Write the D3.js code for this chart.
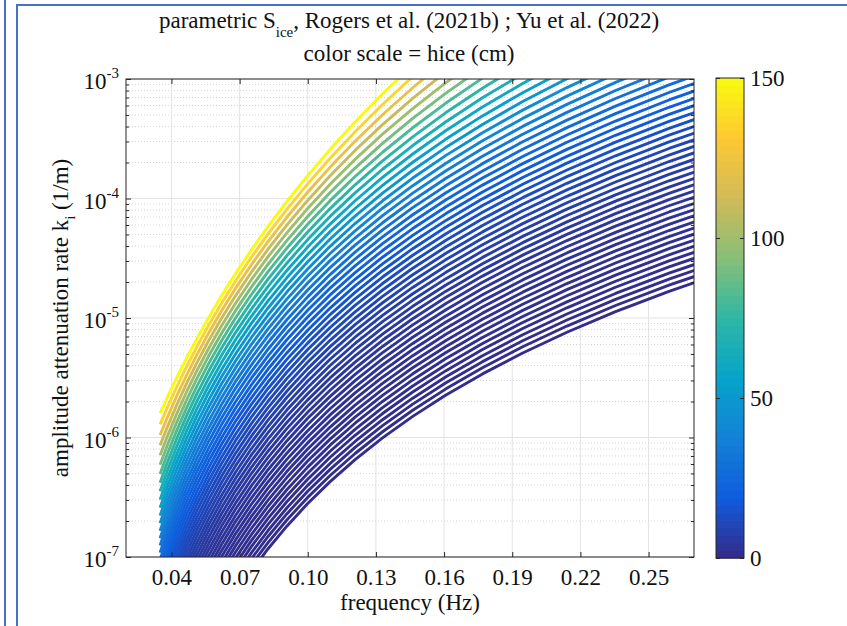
<!DOCTYPE html>
<html><head><meta charset="utf-8">
<script src="https://cdn.jsdelivr.net/npm/d3@7"></script>
<style>body{margin:0;background:#fff}svg{display:block}</style>
</head><body>
<svg id="chart" width="847" height="626"></svg>
<script>
// ---- data ----
// model frequencies (Hz)
const freqHz = [0.0350,0.0385,0.04235,0.046585,0.051244,0.056368,0.062005,0.068205,0.075026,0.082528,0.090781,0.099859,0.109845,0.120830,0.132912,0.146204,0.160824,0.176907,0.194597,0.214057,0.235463,0.259009,0.284910];
// attenuation rate k_i (1/m) of the thinnest-ice (1 cm) curve
const baseK = [1.960e-9,3.139e-9,5.004e-9,7.945e-9,1.257e-8,1.980e-8,3.108e-8,4.859e-8,7.561e-8,1.173e-7,1.812e-7,2.787e-7,4.273e-7,6.524e-7,9.918e-7,1.502e-6,2.266e-6,3.406e-6,5.098e-6,7.599e-6,1.129e-5,1.670e-5,2.460e-5];
// ice thickness of every curve (cm)
const hiceCm = [1.00,1.11,1.23,1.36,1.51,1.67,1.85,2.05,2.27,2.51,2.78,3.08,3.41,3.78,4.19,4.64,5.14,5.69,6.30,6.98,7.73,8.57,9.49,10.51,11.64,12.90,14.29,15.83,17.53,19.42,21.51,23.83,26.39,29.23,32.38,35.87,39.73,44.01,48.75,54.00,59.82,66.26,73.40,81.30,90.06,99.76,110.50,122.40,135.59,150.00];
const hiceExponent = 1.132;          // k_i grows as hice^m ...
const hiceGrowth = 0.003;            // ... times 10^(g*hice) (decades per cm)
const thickBend = 2.5;               // sag (decades) of the thick-ice curves between the two frequencies below
const thickBendFreqs = [0.035,0.1397];
const xTicks = [0.04,0.07,0.10,0.13,0.16,0.19,0.22,0.25];
const yTickExponents = [-7,-6,-5,-4,-3];
const cbTicks = [0,50,100,150];

// ---- styles ----
const parulaStops = ["#352a87","#0f5cdd","#1481d6","#06a4ca","#2eb7a4","#87bf77","#d1bb59","#fec832","#f9fb0e"];
const FONT = "Liberation Serif, Times New Roman, serif";
const FS = 23;
const M = {left:126, right:694, top:79, bottom:557};
const CB = {x0:716, x1:744, top:78, bottom:558};

const svg = d3.select("#chart");
svg.append("rect").attr("width",847).attr("height",626).attr("fill","#fff");

// frame lines
svg.append("line").attr("x1",5).attr("x2",5).attr("y1",0).attr("y2",626).attr("stroke","#4472c4").attr("stroke-width",2);
svg.append("line").attr("x1",17).attr("x2",17).attr("y1",5).attr("y2",626).attr("stroke","#4472c4").attr("stroke-width",2);
svg.append("line").attr("x1",16).attr("x2",847).attr("y1",5).attr("y2",5).attr("stroke","#4472c4").attr("stroke-width",2);

const x = d3.scaleLinear().domain([0.02,0.27]).range([M.left,M.right]);
const y = d3.scaleLog().domain([1e-7,1e-3]).range([M.bottom,M.top]);
const hMax = 150;
const color = d3.scaleLinear()
  .domain(parulaStops.map((c,i)=> i*hMax/(parulaStops.length-1)))
  .range(parulaStops).clamp(true);

// grid
const grid = svg.append("g");
xTicks.forEach(t=>{
  grid.append("line").attr("x1",x(t)).attr("x2",x(t)).attr("y1",M.top).attr("y2",M.bottom)
    .attr("stroke","#e3e3e3").attr("stroke-width",1);
});
const minorY=[];
for(let e=-7;e<-3;e++){ for(let m=2;m<=9;m++) minorY.push(m*Math.pow(10,e)); }
minorY.forEach(v=>{
  grid.append("line").attr("x1",M.left).attr("x2",M.right).attr("y1",y(v)).attr("y2",y(v))
    .attr("stroke","#d4d4d4").attr("stroke-width",1).attr("stroke-dasharray","1,2");
});
yTickExponents.forEach(e=>{
  grid.append("line").attr("x1",M.left).attr("x2",M.right).attr("y1",y(Math.pow(10,e))).attr("y2",y(Math.pow(10,e)))
    .attr("stroke","#e3e3e3").attr("stroke-width",1);
});

// curves
svg.append("clipPath").attr("id","clip").append("rect")
  .attr("x",M.left).attr("y",M.top).attr("width",M.right-M.left).attr("height",M.bottom-M.top);
const line = d3.line().x(d=>x(d.f)).y(d=>y(d.k));
const curves = svg.append("g").attr("clip-path","url(#clip)");
const L0 = Math.log10(thickBendFreqs[0]), L1 = Math.log10(thickBendFreqs[1]);
hiceCm.forEach(h=>{
  const u = Math.pow(h/hMax,1.5);
  const pts = freqHz.map((f,i)=>{
    const L = Math.log10(f);
    const lk = Math.log10(baseK[i]) + hiceExponent*Math.log10(h) + hiceGrowth*(h-1)
             + u*thickBend*(L-L0)*(L-L1);
    return {f:f, k:Math.pow(10,lk)};
  });
  curves.append("path").datum(pts).attr("d",line).attr("fill","none")
    .attr("stroke",color(h)).attr("stroke-width",2.9).attr("stroke-linejoin","round");
});

// axes box and ticks
const axCol = "#262626";
const ax = svg.append("g");
ax.append("rect").attr("x",M.left).attr("y",M.top).attr("width",M.right-M.left).attr("height",M.bottom-M.top)
  .attr("fill","none").attr("stroke",axCol).attr("stroke-width",1);
const xb = ax.append("g").attr("transform",`translate(0,${M.bottom})`)
  .call(d3.axisBottom(x).tickValues(xTicks).tickSize(-5).tickPadding(12).tickFormat(d3.format(".2f")));
const xt = ax.append("g").attr("transform",`translate(0,${M.top})`)
  .call(d3.axisTop(x).tickValues(xTicks).tickSize(-5).tickFormat(""));
[xb,xt].forEach(g=>{g.select(".domain").remove(); g.selectAll("line").attr("stroke",axCol);});
xb.selectAll("text").attr("font-family",FONT).attr("font-size",FS).attr("fill","#111").attr("dy","0.71em");

const yl = ax.append("g").attr("transform",`translate(${M.left},0)`)
  .call(d3.axisLeft(y).tickValues(yTickExponents.map(e=>Math.pow(10,e))).tickSize(-5).tickFormat(""));
const yr = ax.append("g").attr("transform",`translate(${M.right},0)`)
  .call(d3.axisRight(y).tickValues(yTickExponents.map(e=>Math.pow(10,e))).tickSize(-5).tickFormat(""));
const ylm = ax.append("g").attr("transform",`translate(${M.left},0)`)
  .call(d3.axisLeft(y).tickValues(minorY).tickSize(-3).tickFormat(""));
const yrm = ax.append("g").attr("transform",`translate(${M.right},0)`)
  .call(d3.axisRight(y).tickValues(minorY).tickSize(-3).tickFormat(""));
[yl,yr,ylm,yrm].forEach(g=>{g.select(".domain").remove(); g.selectAll("line").attr("stroke",axCol);});

yTickExponents.forEach(e=>{
  const t = ax.append("text").attr("x",M.left-7).attr("y",y(Math.pow(10,e))+10)
    .attr("text-anchor","end").attr("font-family",FONT).attr("font-size",FS).attr("fill","#111");
  t.append("tspan").text("10");
  t.append("tspan").attr("dy",-11).attr("font-size",15).text(String(e));
});

// axis labels
svg.append("text").attr("x",(M.left+M.right)/2).attr("y",610).attr("text-anchor","middle")
  .attr("font-family",FONT).attr("font-size",FS).attr("fill","#111").text("frequency (Hz)");
const ylab = svg.append("text").attr("transform",`translate(68,${(M.top+M.bottom)/2}) rotate(-90)`)
  .attr("text-anchor","middle").attr("font-family",FONT).attr("font-size",FS).attr("fill","#111");
ylab.append("tspan").text("amplitude attenuation rate k");
ylab.append("tspan").attr("dy",7).attr("font-size",15).text("i");
ylab.append("tspan").attr("dy",-7).text(" (1/m)");

// title
const t1 = svg.append("text").attr("x",409).attr("y",28).attr("text-anchor","middle")
  .attr("font-family",FONT).attr("font-size",FS).attr("fill","#111");
t1.append("tspan").text("parametric S");
t1.append("tspan").attr("dy",9).attr("font-size",15).text("ice");
t1.append("tspan").attr("dy",-9).text(", Rogers et al. (2021b) ; Yu et al. (2022)");
svg.append("text").attr("x",409).attr("y",61).attr("text-anchor","middle")
  .attr("font-family",FONT).attr("font-size",FS).attr("fill","#111").text("color scale = hice (cm)");

// colorbar
const cy = d3.scaleLinear().domain([0,hMax]).range([CB.bottom,CB.top]);
const nb = 64;
const cb = svg.append("g");
d3.range(nb).forEach(i=>{
  const v0 = i*hMax/nb, v1=(i+1)*hMax/nb;
  cb.append("rect").attr("x",CB.x0).attr("width",CB.x1-CB.x0)
    .attr("y",cy(v1)).attr("height",cy(v0)-cy(v1)+0.6).attr("fill",color((v0+v1)/2));
});
cb.append("rect").attr("x",CB.x0).attr("y",CB.top).attr("width",CB.x1-CB.x0).attr("height",CB.bottom-CB.top)
  .attr("fill","none").attr("stroke",axCol).attr("stroke-width",1);
const cbr = cb.append("g").attr("transform",`translate(${CB.x1},0)`)
  .call(d3.axisRight(cy).tickValues(cbTicks).tickSize(-4).tickPadding(8));
const cbl = cb.append("g").attr("transform",`translate(${CB.x0},0)`)
  .call(d3.axisLeft(cy).tickValues(cbTicks).tickSize(-4).tickFormat(""));
[cbr,cbl].forEach(g=>{g.select(".domain").remove(); g.selectAll("line").attr("stroke",axCol);});
cbr.selectAll("text").attr("font-family",FONT).attr("font-size",FS).attr("fill","#111").attr("x",6);
</script>
</body></html>
